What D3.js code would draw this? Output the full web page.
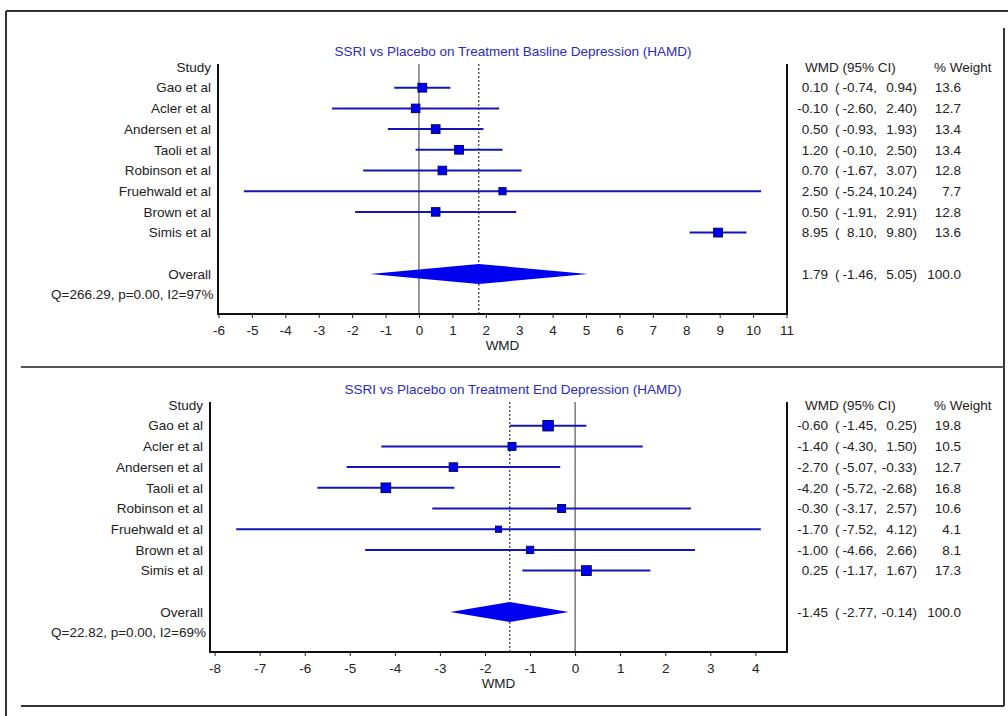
<!DOCTYPE html>
<html>
<head>
<meta charset="utf-8">
<script src="https://cdn.jsdelivr.net/npm/d3@7"></script>
<style>
  body { margin: 0; background: #fff; }
  svg text { font-family: "Liberation Sans", Arial, sans-serif; font-size: 13.5px; fill: #222; }
</style>
</head>
<body>
<div id="chart"></div>
<script>
// studies (same order in both panels)
const studies = ["Gao et al", "Acler et al", "Andersen et al", "Taoli et al",
                 "Robinson et al", "Fruehwald et al", "Brown et al", "Simis et al"];

// baseline panel
const baseTitle = "SSRI vs Placebo on Treatment Basline Depression (HAMD)";
const baseEst = [0.10, -0.10, 0.50, 1.20, 0.70, 2.50, 0.50, 8.95];
const baseLo = [-0.74, -2.60, -0.93, -0.10, -1.67, -5.24, -1.91, 8.10];
const baseHi = [0.94, 2.40, 1.93, 2.50, 3.07, 10.24, 2.91, 9.80];
const baseWeight = [13.6, 12.7, 13.4, 13.4, 12.8, 7.7, 12.8, 13.6];
const baseOverall = [1.79, -1.46, 5.05]; // est, lo, hi
const baseStats = "Q=266.29, p=0.00, I2=97%";

// end of treatment panel
const endTitle = "SSRI vs Placebo on Treatment End Depression (HAMD)";
const endEst = [-0.60, -1.40, -2.70, -4.20, -0.30, -1.70, -1.00, 0.25];
const endLo = [-1.45, -4.30, -5.07, -5.72, -3.17, -7.52, -4.66, -1.17];
const endHi = [0.25, 1.50, -0.33, -2.68, 2.57, 4.12, 2.66, 1.67];
const endWeight = [19.8, 10.5, 12.7, 16.8, 10.6, 4.1, 8.1, 17.3];
const endOverall = [-1.45, -2.77, -0.14];
const endStats = "Q=22.82, p=0.00, I2=69%";

const W = 1008, H = 716;
const svg = d3.select("#chart").append("svg")
    .attr("width", W).attr("height", H);

// outer frame (clipped screenshot look)
const frame = svg.append("g").attr("stroke", "#333").attr("stroke-width", 2);
frame.append("line").attr("x1", 6).attr("x2", W).attr("y1", 11).attr("y2", 11);
frame.append("line").attr("x1", 6).attr("x2", 6).attr("y1", 11).attr("y2", H);
frame.append("line").attr("x1", 1004).attr("x2", 1004).attr("y1", 28).attr("y2", 706);
frame.append("line").attr("x1", 21).attr("x2", 1004).attr("y1", 706).attr("y2", 706);
frame.append("line").attr("x1", 21).attr("x2", 1004).attr("y1", 367).attr("y2", 367)
    .attr("stroke", "#555");

// plain hyphen for negatives, like the original
const locale = d3.formatLocale({ decimal: ".", thousands: ",", grouping: [3], currency: ["", ""], minus: "-" });
const fmt = locale.format(".2f");
const fmtW = locale.format(".1f");
const fmtTick = locale.format("d");
const sizeScale = d3.scaleLinear().domain([0, 20]).range([5, 10.5]);

function drawPanel(cfg) {
    const rowH = 20.7;
    const top = cfg.top;               // y of header row
    const plotLeft = cfg.left, plotRight = 787;
    const axisY = top + 247;
    const rowY = i => top + i * rowH;

    const allLo = d3.min(cfg.lo), allHi = d3.max(cfg.hi);
    const pad = (allHi - allLo) * 0.05;
    const x = d3.scaleLinear().domain([allLo - pad, allHi + pad]).range([plotLeft, plotRight]);

    const g = svg.append("g");

    // title
    g.append("text").attr("x", 513).attr("y", top - 16).attr("dy", "0.35em")
        .attr("text-anchor", "middle").style("fill", "#2b2bc2").text(cfg.title);

    // study labels
    const labels = ["Study"].concat(cfg.studies);
    g.selectAll(".lab").data(labels).join("text")
        .attr("x", plotLeft - 7).attr("y", (d, i) => rowY(i)).attr("dy", "0.35em")
        .attr("text-anchor", "end").text(d => d);
    g.append("text").attr("x", plotLeft - 7).attr("y", rowY(10)).attr("dy", "0.35em")
        .attr("text-anchor", "end").text("Overall");
    g.append("text").attr("x", 51).attr("y", rowY(11)).attr("dy", "0.35em")
        .text(cfg.stats);

    // reference lines
    g.append("line").attr("x1", x(0)).attr("x2", x(0))
        .attr("y1", top - 3).attr("y2", axisY)
        .attr("stroke", "#555").attr("stroke-width", 1.2);
    g.append("line").attr("x1", x(cfg.overall[0])).attr("x2", x(cfg.overall[0]))
        .attr("y1", top - 3).attr("y2", axisY)
        .attr("stroke", "#333").attr("stroke-width", 1.2).attr("stroke-dasharray", "2,2");

    // x axis
    const ticks = d3.range(Math.ceil(x.domain()[0]), Math.floor(x.domain()[1]) + 1);
    const ax = g.append("g").attr("transform", `translate(0,${axisY})`)
        .call(d3.axisBottom(x).tickValues(ticks).tickFormat(fmtTick)
            .tickSize(4).tickPadding(7));
    ax.select(".domain").remove();
    ax.selectAll("line").attr("stroke", "#222");
    ax.selectAll("text").style("font-size", "13.5px").style("font-family", "\"Liberation Sans\", Arial, sans-serif").attr("fill", "#222");
    g.append("text").attr("x", (plotLeft + plotRight) / 2).attr("y", axisY + 31)
        .attr("dy", "0.35em").attr("text-anchor", "middle").text("WMD");

    // plot box (left, bottom, right)
    g.append("path")
        .attr("d", `M${plotLeft},${top - 3}V${axisY}H${plotRight}V${top - 3}`)
        .attr("fill", "none").attr("stroke", "#111").attr("stroke-width", 2);

    // CI lines and boxes
    const rows = cfg.studies.map((s, i) => ({
        est: cfg.est[i], lo: cfg.lo[i], hi: cfg.hi[i], w: cfg.weight[i], y: rowY(i + 1)
    }));
    g.selectAll(".ci").data(rows).join("line")
        .attr("x1", d => x(d.lo)).attr("x2", d => x(d.hi))
        .attr("y1", d => d.y).attr("y2", d => d.y)
        .attr("stroke", "#1414b8").attr("stroke-width", 2);
    g.selectAll(".box").data(rows).join("rect")
        .attr("x", d => x(d.est) - sizeScale(d.w) / 2)
        .attr("y", d => d.y - sizeScale(d.w) / 2)
        .attr("width", d => sizeScale(d.w)).attr("height", d => sizeScale(d.w))
        .attr("fill", "#0000f0").attr("stroke", "#000060").attr("stroke-width", 1);

    // overall diamond
    const [oe, ol, oh] = cfg.overall;
    const dy = rowY(10);
    g.append("polygon")
        .attr("points", [[x(ol), dy], [x(oe), dy - 10], [x(oh), dy], [x(oe), dy + 10]].join(" "))
        .attr("fill", "#0000f0");

    // right table
    g.append("text").attr("x", 805).attr("y", rowY(0)).attr("dy", "0.35em").text("WMD (95% CI)");
    g.append("text").attr("x", 934).attr("y", rowY(0)).attr("dy", "0.35em").text("% Weight");
    const tab = rows.map(d => d).concat([{ est: oe, lo: ol, hi: oh, w: 100, y: dy }]);
    const tr = g.selectAll(".tr").data(tab).join("g");
    tr.append("text").attr("x", 828).attr("y", d => d.y).attr("dy", "0.35em")
        .attr("text-anchor", "end").text(d => fmt(d.est));
    tr.append("text").attr("x", 835).attr("y", d => d.y).attr("dy", "0.35em").text("(");
    tr.append("text").attr("x", 877).attr("y", d => d.y).attr("dy", "0.35em")
        .attr("text-anchor", "end").text(d => fmt(d.lo) + ",");
    tr.append("text").attr("x", 917).attr("y", d => d.y).attr("dy", "0.35em")
        .attr("text-anchor", "end").text(d => fmt(d.hi) + ")");
    tr.append("text").attr("x", 961).attr("y", d => d.y).attr("dy", "0.35em")
        .attr("text-anchor", "end").text(d => fmtW(d.w));
}

drawPanel({ top: 67, left: 218, title: baseTitle, studies: studies, est: baseEst, lo: baseLo,
            hi: baseHi, weight: baseWeight, overall: baseOverall, stats: baseStats });
drawPanel({ top: 405, left: 210, title: endTitle, studies: studies, est: endEst, lo: endLo,
            hi: endHi, weight: endWeight, overall: endOverall, stats: endStats });
</script>
</body>
</html>
